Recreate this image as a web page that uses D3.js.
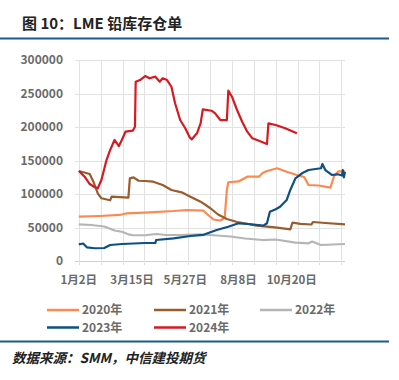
<!DOCTYPE html>
<html>
<head>
<meta charset="utf-8">
<script src="https://cdn.jsdelivr.net/npm/d3@7/dist/d3.min.js"></script>
<style>
	html, body { margin: 0; padding: 0; background: #fff; }
	svg { display: block; }
</style>
</head>
<body>
<div id="chart"></div>
<script>
// x values are calendar-day offsets from 1月2日
var tickLabels = ["1月2日", "3月15日", "5月27日", "8月8日", "10月20日"];
var yTicks = [0, 50000, 100000, 150000, 200000, 250000, 300000];
var seriesNames = ["2020年", "2021年", "2022年", "2023年", "2024年"];
var seriesColors = ["#fb8a50", "#9a5c2c", "#b5b5b5", "#0d5084", "#d71a21"];

var s2020 = [[0,66100],[29,67200],[56,68700],[66,71200],[97,72700],[130,74600],[148,76100],[171,75100],
	[178,67900],[185,61900],[194,60400],[200,64200],[203,106000],[205,117500],[219,118700],[231,125800],
	[247,125800],[252,131300],[258,134300],[272,138400],[285,133300],[299,128400],[309,125400],[315,113400],
	[329,112700],[345,109400],[350,126900],[356,133900],[365,133900]];

var s2021 = [[0,134300],[15,129800],[20,118400],[26,101000],[31,93600],[43,90600],[45,96000],[68,94500],
	[70,123400],[75,124900],[82,119800],[91,119400],[102,118400],[115,113400],[127,106000],[141,102500],
	[153,96000],[167,88500],[180,79100],[191,69400],[203,62700],[217,58200],[244,52700],[272,49700],
	[290,47300],[293,57200],[304,55500],[319,54500],[321,58200],[338,56700],[365,54800]];

var s2022 = [[0,54800],[17,53700],[35,51500],[49,45500],[59,43700],[68,39800],[74,38400],[91,38400],
	[106,40300],[120,38800],[139,38800],[167,39800],[180,38800],[208,36600],[228,33600],[252,31300],
	[270,32100],[297,27300],[315,26400],[320,29100],[332,23900],[365,25400]];

var s2023 = [[0,24900],[6,26100],[11,20400],[22,19000],[35,19400],[43,23900],[59,25400],[91,26900],
	[105,26900],[106,31300],[130,33900],[153,37300],[171,39100],[189,46300],[205,51200],[219,56300],
	[233,55200],[253,52700],[258,56300],[262,73600],[270,77200],[276,81000],[285,91000],[290,106000],
	[297,123400],[306,130900],[315,135800],[332,138400],[334,144800],[338,135800],[347,128400],
	[355,129400],[361,127600],[362,135800],[363.5,124900],[365,133300]];

var s2024 = [[0,134300],[8,125800],[15,114900],[22,110000],[26,108500],[31,120900],[38,150700],
	[43,165700],[49,180600],[55,171600],[59,180600],[64,193000],[74,194500],[77,200400],[78,267600],
	[84,270100],[91,276100],[97,272700],[105,275100],[111,267600],[115,272700],[121,270100],
	[127,260100],[132,235400],[139,210400],[146,198100],[152,184600],[155,181600],[162,190600],
	[167,205500],[170,226400],[182,224300],[187,220400],[194,210400],[203,210400],[205,254200],
	[210,245200],[217,225400],[224,207900],[231,193000],[238,183100],[247,179500],[258,174600],
	[260,205500],[270,203000],[283,198100],[299,190600]];

var allSeries = [s2020, s2021, s2022, s2023, s2024];

var W = 399, H = 380;
var svg = d3.select("#chart").append("svg")
	.attr("width", W).attr("height", H)
	.style("font-family", "'Noto Sans CJK SC', 'Noto Sans', sans-serif");

// title and frame lines
svg.append("text")
	.attr("x", 22).attr("y", 29)
	.attr("font-size", 15).attr("font-weight", "bold").attr("fill", "#222")
	.text("图 10：LME 铅库存仓单");

svg.append("line").attr("x1", 0).attr("x2", 389).attr("y1", 38.5).attr("y2", 38.5)
	.attr("stroke", "#1d5a8a").attr("stroke-width", 2);
svg.append("line").attr("x1", 0).attr("x2", 389).attr("y1", 341.5).attr("y2", 341.5)
	.attr("stroke", "#1d5a8a").attr("stroke-width", 2);

svg.append("text")
	.attr("x", 12).attr("y", 363)
	.attr("font-size", 13.5).attr("font-weight", "bold").attr("font-style", "italic").attr("fill", "#222")
	.text("数据来源：SMM，中信建投期货");

var x = d3.scaleLinear().domain([0, 365]).range([78.8, 345]);
var y = d3.scaleLinear().domain([0, 300000]).range([261, 60]);

// gridlines every 30 days, labels every 73 days
var gridDays = d3.range(0, 361, 30);
var labelStep = 73;

var g = svg.append("g");

// horizontal grid
g.selectAll(".hg").data(yTicks).join("line")
	.attr("x1", 75).attr("x2", 345)
	.attr("y1", function(d) { return Math.round(y(d)) + 0.5; })
	.attr("y2", function(d) { return Math.round(y(d)) + 0.5; })
	.attr("stroke", function(d) { return d === 0 ? "#d0d0d0" : "#e2e2e2"; })
	.attr("stroke-width", 1);

// vertical grid + ticks below axis
g.selectAll(".vg").data(gridDays).join("line")
	.attr("x1", function(d) { return Math.round(x(d)) + 0.5; })
	.attr("x2", function(d) { return Math.round(x(d)) + 0.5; })
	.attr("y1", y(300000)).attr("y2", y(0) + 4)
	.attr("stroke", "#e2e2e2").attr("stroke-width", 1);

// y labels
g.selectAll(".yl").data(yTicks).join("text")
	.attr("x", 63).attr("y", function(d) { return y(d); })
	.attr("dy", "0.36em").attr("text-anchor", "end")
	.attr("font-size", 12).attr("font-weight", "bold").attr("fill", "#6a6a6a")
	.text(function(d) { return d; });

// x labels
g.selectAll(".xl").data(tickLabels).join("text")
	.attr("x", function(d, i) { return x(i * labelStep); })
	.attr("y", 284).attr("text-anchor", "middle")
	.attr("font-size", 11.5).attr("font-weight", "bold").attr("fill", "#6a6a6a")
	.text(function(d) { return d; });

var line = d3.line()
	.x(function(d) { return x(d[0]); })
	.y(function(d) { return y(d[1]); });

// draw older years first so 2024 sits on top
var order = [2, 0, 1, 3, 4];
order.forEach(function(i) {
	g.append("path")
		.datum(allSeries[i])
		.attr("d", line)
		.attr("fill", "none")
		.attr("stroke", seriesColors[i])
		.attr("stroke-width", 2.2)
		.attr("stroke-linejoin", "round");
});

// legend
var legPos = [[47, 310], [154, 310], [260, 310], [47, 327.5], [154, 327.5]];
var leg = svg.selectAll(".lg").data(seriesNames).join("g")
	.attr("transform", function(d, i) { return "translate(" + legPos[i][0] + "," + legPos[i][1] + ")"; });

leg.append("line")
	.attr("x1", 0).attr("x2", 32).attr("y1", 0).attr("y2", 0)
	.attr("stroke", function(d, i) { return seriesColors[i]; })
	.attr("stroke-width", 2.5);

leg.append("text")
	.attr("x", 35).attr("y", 0).attr("dy", "0.36em")
	.attr("font-size", 12).attr("font-weight", "bold").attr("fill", "#6a6a6a")
	.text(function(d) { return d; });
</script>
</body>
</html>
